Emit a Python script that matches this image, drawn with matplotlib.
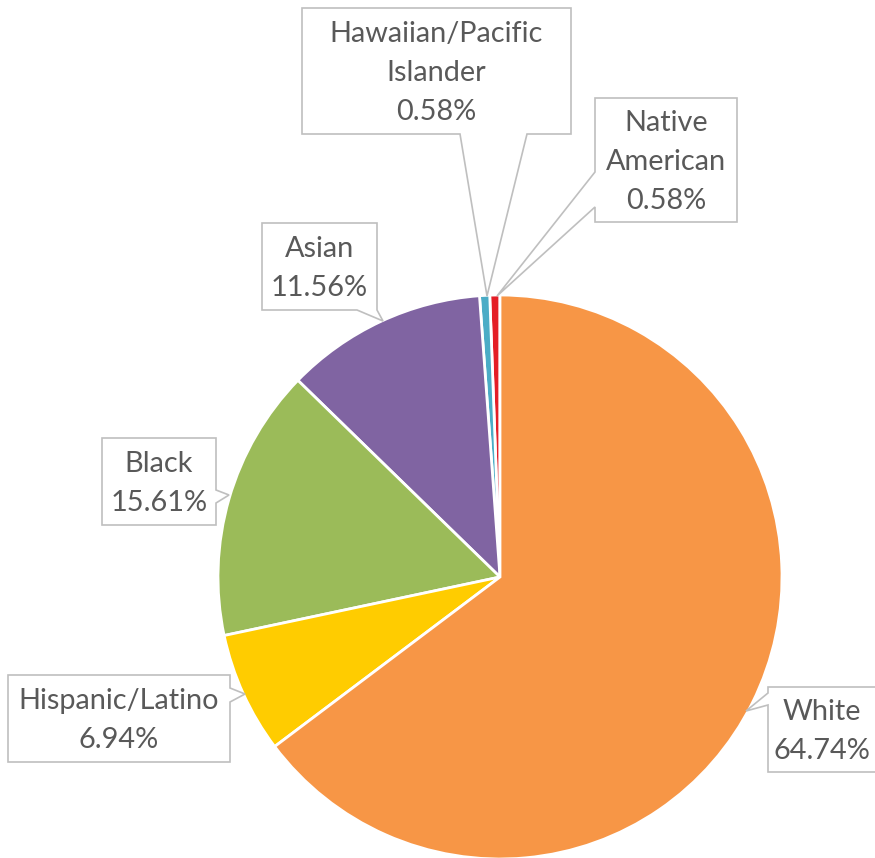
import matplotlib
matplotlib.use("Agg")
import matplotlib.pyplot as plt
from matplotlib.patches import Polygon

plt.rcParams['font.family'] = ['Lato', 'DejaVu Sans']

# Data (counter-clockwise from 12 o'clock, as drawn)
categories = ["Native American", "Hawaiian/Pacific Islander", "Asian", "Black",
              "Hispanic/Latino", "White"]
values = [0.58, 0.58, 11.56, 15.61, 6.94, 64.74]
label_texts = ["Native\nAmerican\n0.58%", "Hawaiian/Pacific\nIslander\n0.58%",
               "Asian\n11.56%", "Black\n15.61%", "Hispanic/Latino\n6.94%",
               "White\n64.74%"]
colors = ["#E41E26", "#4BACC6", "#8064A2", "#9BBB59", "#FFCC00", "#F79646"]

W, H = 875, 858
fig = plt.figure(figsize=(W / 100, H / 100), dpi=100)
ax = fig.add_axes([0, 0, 1, 1])

def Y(y):
    return H - y

ax.pie(values, colors=colors, startangle=90, counterclock=True,
       center=(500, Y(577)), radius=282,
       wedgeprops=dict(edgecolor="white", linewidth=2.0))
ax.set_xlim(0, W)
ax.set_ylim(0, H)
ax.set_aspect("equal")
ax.axis("off")

# Callout boxes (layout in pixel coordinates: left, top, right, bottom,
# side of pointer, pointer base start/end, tip)
boxes = [
    dict(rect=(595, 98, 737, 222), side="left", base=(172, 207), tip=(497, 296)),
    dict(rect=(302, 8, 571, 134), side="bottom", base=(460, 527), tip=(487, 296)),
    dict(rect=(262, 223, 377, 310), side="bottom", base=(357, 377), tip=(383, 321)),
    dict(rect=(102, 438, 216, 525), side="right", base=(490, 503), tip=(229, 495)),
    dict(rect=(8, 675, 230, 762), side="right", base=(688, 702), tip=(245, 694)),
    dict(rect=(768, 687, 880, 772), side="left", base=(693, 705), tip=(746, 711)),
]

for b, txt in zip(boxes, label_texts):
    l, t, r, bt = b["rect"]
    s0, s1 = b["base"]
    tx, ty = b["tip"]
    if b["side"] == "bottom":
        pts = [(l, t), (r, t), (r, bt), (s1, bt), (tx, ty), (s0, bt), (l, bt)]
    elif b["side"] == "left":
        pts = [(l, t), (r, t), (r, bt), (l, bt), (l, s1), (tx, ty), (l, s0)]
    else:  # right
        pts = [(l, t), (r, t), (r, s0), (tx, ty), (r, s1), (r, bt), (l, bt)]
    pts = [(x, Y(y)) for x, y in pts]
    ax.add_patch(Polygon(pts, closed=True, facecolor="white",
                         edgecolor="#BFBFBF", linewidth=1.2, zorder=5))
    cx = (l + min(r, W)) / 2
    cy = (t + bt) / 2
    ax.text(cx, Y(cy + 2), txt, ha="center", va="center", fontsize=20.8,
            color="#595959", linespacing=1.62, zorder=6)

fig.savefig("out.png", dpi=100)
